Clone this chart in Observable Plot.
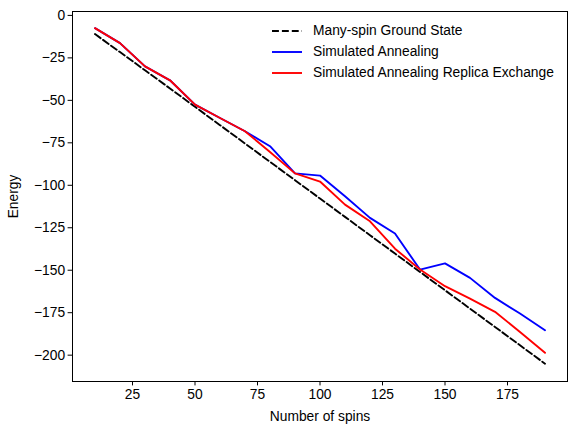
<!DOCTYPE html>
<html>
<head>
<meta charset="utf-8">
<script src="https://cdn.jsdelivr.net/npm/d3@7"></script>
<script src="https://cdn.jsdelivr.net/npm/@observablehq/plot@0.6"></script>
<style>
  body { margin: 0; background: white; }
  #chart { position: relative; width: 576px; height: 434px; font-family: "Liberation Sans", Arial, sans-serif; }
  #legend { position: absolute; left: 272px; top: 20px; font-size: 13.8px; color: #000; }
  #legend .row { display: flex; align-items: center; height: 21px; }
  #legend svg { width: 30px; height: 4px; margin-right: 11px; }
</style>
</head>
<body>
<div id="chart"><div id="legend"></div></div>
<script>
// values
const spins = [10, 20, 30, 40, 50, 60, 70, 80, 90, 100, 110, 120, 130, 140, 150, 160, 170, 180, 190];
const groundState = [-11, -21.6, -32.3, -43, -53.8, -64.6, -75.4, -86.2, -97, -107.8, -118.6, -129.4, -140.2, -151, -161.8, -172.6, -183.4, -194.2, -205];
const annealing = [-7.5, -16.3, -30, -38.2, -52.5, -60.4, -68.2, -77, -93, -94.3, -106.5, -119.2, -128.4, -149.6, -146, -154.5, -166.3, -175.5, -185.3];
const replica = [-7.5, -16.3, -30, -38.2, -52.5, -60.4, -68.2, -80.4, -93, -97.8, -111.4, -121.2, -137.3, -149.6, -159.4, -166.7, -174.5, -186.3, -198.6];

const seriesNames = ["Many-spin Ground State", "Simulated Annealing", "Simulated Annealing Replica Exchange"];
const seriesColors = ["black", "#0000ff", "#ff0000"];
const xTicks = [25, 50, 75, 100, 125, 150, 175];
const yTicks = [0, -25, -50, -75, -100, -125, -150, -175, -200];

const rows = (vals, name) => spins.map((n, i) => ({n, e: vals[i], name}));
const ground = rows(groundState, seriesNames[0]);
const sa = rows(annealing, seriesNames[1]);
const sare = rows(replica, seriesNames[2]);

const chart = Plot.plot({
  width: 576,
  height: 434,
  marginLeft: 72,
  marginRight: 9,
  marginTop: 11,
  marginBottom: 53,
  style: {fontFamily: "'Liberation Sans', Arial, sans-serif", fontSize: "13.8px", color: "black", background: "white"},
  x: {domain: [1, 199]},
  y: {domain: [-215.5, 2.3]},
  marks: [
    Plot.axisX({ticks: xTicks, tickSize: 4.4, tickPadding: 3, label: "Number of spins", labelAnchor: "center", labelArrow: "none", labelOffset: 39}),
    Plot.axisY({ticks: yTicks, tickSize: 4.4, tickPadding: 3, label: "Energy", labelAnchor: "center", labelArrow: "none", labelOffset: 64}),
    Plot.line(ground, {x: "n", y: "e", stroke: seriesColors[0], strokeWidth: 1.9, strokeDasharray: "6.9,3"}),
    Plot.line(sa, {x: "n", y: "e", stroke: seriesColors[1], strokeWidth: 1.9}),
    Plot.line(sare, {x: "n", y: "e", stroke: seriesColors[2], strokeWidth: 1.9}),
    Plot.frame({stroke: "black", strokeWidth: 1})
  ]
});

document.getElementById("chart").prepend(chart);

// legend, no frame, like the original
const legend = d3.select("#legend");
seriesNames.forEach((name, i) => {
  const row = legend.append("div").attr("class", "row");
  row.append("svg").append("line")
    .attr("x1", 0).attr("x2", 30).attr("y1", 2).attr("y2", 2)
    .attr("stroke", seriesColors[i]).attr("stroke-width", 1.9)
    .attr("stroke-dasharray", i == 0 ? "6.9,3" : null);
  row.append("span").text(name);
});
</script>
</body>
</html>
